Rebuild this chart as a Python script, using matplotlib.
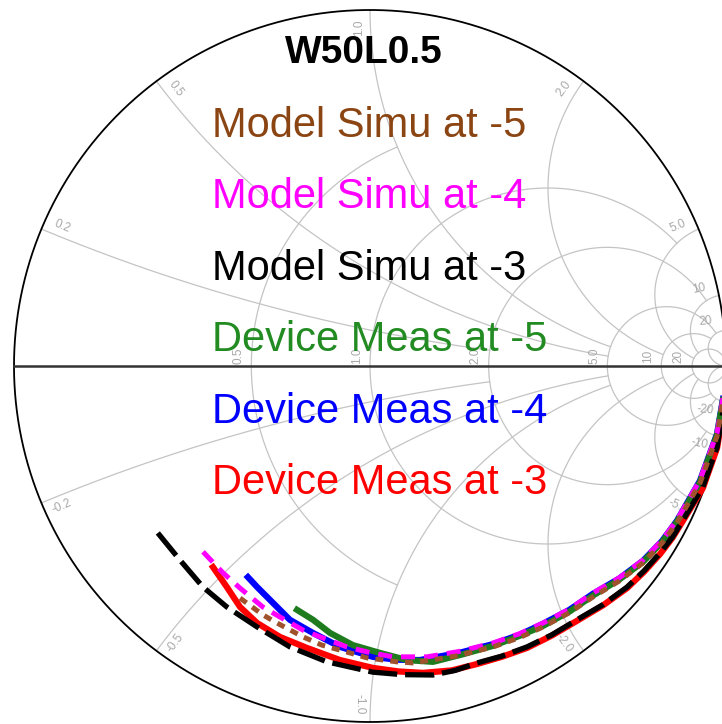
import numpy as np
import matplotlib.pyplot as plt

# ==============================
# Data (reflection coefficient, real / imag)
# ==============================
model_m3_re = [-0.596, -0.534, -0.469, -0.402, -0.317, -0.225, -0.121, 0.008, 0.090, 0.177, 0.240, 0.301, 0.370, 0.441, 0.511, 0.581, 0.655, 0.722, 0.770, 0.815, 0.850, 0.879, 0.935, 0.975, 0.994]
model_m3_im = [-0.469, -0.545, -0.621, -0.677, -0.733, -0.789, -0.831, -0.860, -0.867, -0.868, -0.855, -0.834, -0.815, -0.789, -0.755, -0.713, -0.670, -0.621, -0.575, -0.525, -0.480, -0.433, -0.340, -0.228, -0.110]

meas_m3_re = [-0.441, -0.420, -0.402, -0.365, -0.317, -0.253, -0.177, -0.084, 0.008, 0.080, 0.149, 0.230, 0.301, 0.370, 0.441, 0.511, 0.581, 0.655, 0.722, 0.770, 0.815, 0.850, 0.879, 0.935, 0.975, 0.994]
meas_m3_im = [-0.565, -0.595, -0.621, -0.677, -0.722, -0.761, -0.792, -0.826, -0.848, -0.858, -0.862, -0.855, -0.837, -0.817, -0.792, -0.757, -0.716, -0.672, -0.624, -0.578, -0.528, -0.482, -0.435, -0.343, -0.230, -0.112]

model_m4_re = [-0.469, -0.413, -0.365, -0.301, -0.253, -0.188, -0.140, -0.065, 0.000, 0.065, 0.160, 0.250, 0.346, 0.420, 0.486, 0.560, 0.626, 0.700, 0.767, 0.820, 0.862, 0.927, 0.975, 0.994]
model_m4_im = [-0.522, -0.581, -0.624, -0.677, -0.705, -0.742, -0.761, -0.789, -0.805, -0.817, -0.817, -0.802, -0.778, -0.752, -0.722, -0.683, -0.638, -0.595, -0.545, -0.490, -0.433, -0.320, -0.188, -0.076]

meas_m4_re = [-0.343, -0.317, -0.272, -0.225, -0.160, -0.084, 0.008, 0.075, 0.140, 0.250, 0.346, 0.420, 0.486, 0.560, 0.626, 0.700, 0.767, 0.820, 0.862, 0.927, 0.975, 0.994]
meas_m4_im = [-0.593, -0.621, -0.666, -0.713, -0.750, -0.789, -0.817, -0.825, -0.826, -0.806, -0.781, -0.755, -0.724, -0.685, -0.640, -0.597, -0.547, -0.492, -0.435, -0.322, -0.190, -0.078]

model_m5_re = [-0.365, -0.301, -0.261, -0.188, -0.135, -0.056, -0.008, 0.076, 0.121, 0.240, 0.346, 0.420, 0.486, 0.560, 0.626, 0.700, 0.767, 0.820, 0.862, 0.927, 0.975, 0.994]
model_m5_im = [-0.652, -0.699, -0.722, -0.761, -0.784, -0.806, -0.820, -0.831, -0.834, -0.815, -0.789, -0.763, -0.733, -0.693, -0.649, -0.604, -0.553, -0.498, -0.441, -0.329, -0.197, -0.084]

meas_m5_re = [-0.205, -0.160, -0.112, -0.048, 0.028, 0.104, 0.177, 0.260, 0.346, 0.420, 0.486, 0.560, 0.626, 0.700, 0.767, 0.820, 0.862, 0.927, 0.975, 0.994]
meas_m5_im = [-0.685, -0.713, -0.750, -0.784, -0.806, -0.826, -0.831, -0.810, -0.786, -0.758, -0.730, -0.690, -0.645, -0.600, -0.550, -0.495, -0.438, -0.326, -0.193, -0.081]

legend_labels = ["Model Simu at -5", "Model Simu at -4", "Model Simu at -3",
                 "Device Meas at -5", "Device Meas at -4", "Device Meas at -3"]
legend_colors = ["#8b4513", "#ff00ff", "black", "#228b22", "#0000ff", "#ff0000"]

r_values = [0.5, 1, 2, 5, 10, 20]
r_xmax = [1, 5, 10, 20, 20, 1e4]
r_text = ["0.5", "1.0", "2.0", "5.0", "10", "20"]
x_values = [0.2, 0.5, 1, 2, 5, 10, 20]
x_rmax = [2, 5, 5, 10, 20, 20, 1e4]
x_text = ["0.2", "0.5", "1.0", "2.0", "5.0", "10", "20"]


def gamma(z):
    return (z - 1) / (z + 1)


# ==============================
# Smith chart frame
# ==============================
fig = plt.figure(figsize=(7.22, 7.24), dpi=100)
ax = fig.add_axes([0, 0, 1, 1])
ax.set_xlim(-370 / 356, 352 / 356)
ax.set_ylim(-358 / 356, 366 / 356)
ax.axis("off")

grid_c = "#c4c4c4"
lab_c = "#a8a8a8"

for r, xm in zip(r_values, r_xmax):
    t = np.linspace(-np.arctan(xm), np.arctan(xm), 800)
    g = gamma(r + 1j * np.tan(t))
    ax.plot(g.real, g.imag, color=grid_c, lw=0.9, zorder=1)

for x, rm in zip(x_values, x_rmax):
    t = np.linspace(0, np.arctan(rm), 800)
    for s in (1, -1):
        g = gamma(np.tan(t) + 1j * s * x)
        ax.plot(g.real, g.imag, color=grid_c, lw=0.9, zorder=1)

th = np.linspace(0, 2 * np.pi, 1000)
ax.plot(np.cos(th), np.sin(th), color="black", lw=1.3, zorder=2)
ax.plot([-1, 1.02], [0, 0], color="#333333", lw=1.8, zorder=2)

# grid labels
for r, txt in zip(r_values, r_text):
    g0 = gamma(r)
    ax.text(g0 - 0.037, 0.028, txt, rotation=90, color=lab_c, fontsize=8.5,
            ha="center", va="center", family="Liberation Sans", zorder=1)

for x, txt in zip(x_values, x_text):
    for s in (1, -1):
        g0 = gamma(1j * s * x)
        ang = np.angle(g0)
        rot = np.degrees(ang)
        if rot > 90:
            rot -= 180
        elif rot < -90:
            rot += 180
        p = 0.95 * g0 + 0.03 * 1j * g0 * (1 if ang > 0 else -1) * (-1 if abs(ang) > np.pi / 2 else 1)
        ax.text(p.real, p.imag, txt if s > 0 else "-" + txt, rotation=rot,
                color=lab_c, fontsize=8.5, ha="center", va="center",
                family="Liberation Sans", zorder=1)

# ==============================
# Curves
# ==============================
ax.plot(meas_m3_re, meas_m3_im, color="#ff0000", lw=4.5, zorder=3, solid_joinstyle="round")
ax.plot(meas_m4_re, meas_m4_im, color="#0000ff", lw=4.5, zorder=3, solid_joinstyle="round")
ax.plot(meas_m5_re, meas_m5_im, color="#1e7b1e", lw=4.5, zorder=3, solid_joinstyle="round")
ax.plot(model_m3_re, model_m3_im, color="black", lw=3.8, dashes=(5.5, 1.5), zorder=4)
ax.plot(model_m4_re, model_m4_im, color="#ff00ff", lw=3.6, dashes=(2.8, 1.8), zorder=4)
ax.plot(model_m5_re, model_m5_im, color="#a0522d", lw=3.6, dashes=(1.6, 1.4), zorder=4)

# ==============================
# Title and legend text
# ==============================
ax.text(-0.017, 0.851, "W50L0.5", fontsize=28, fontweight="bold", ha="center",
        va="baseline", family="Liberation Sans", zorder=5)
for i, (lab, col) in enumerate(zip(legend_labels, legend_colors)):
    ax.text(-0.444, 0.643 - i * 0.2005, lab, color=col, fontsize=30, ha="left",
            va="baseline", family="Liberation Sans", zorder=5)

fig.savefig("out.png", dpi=100)
